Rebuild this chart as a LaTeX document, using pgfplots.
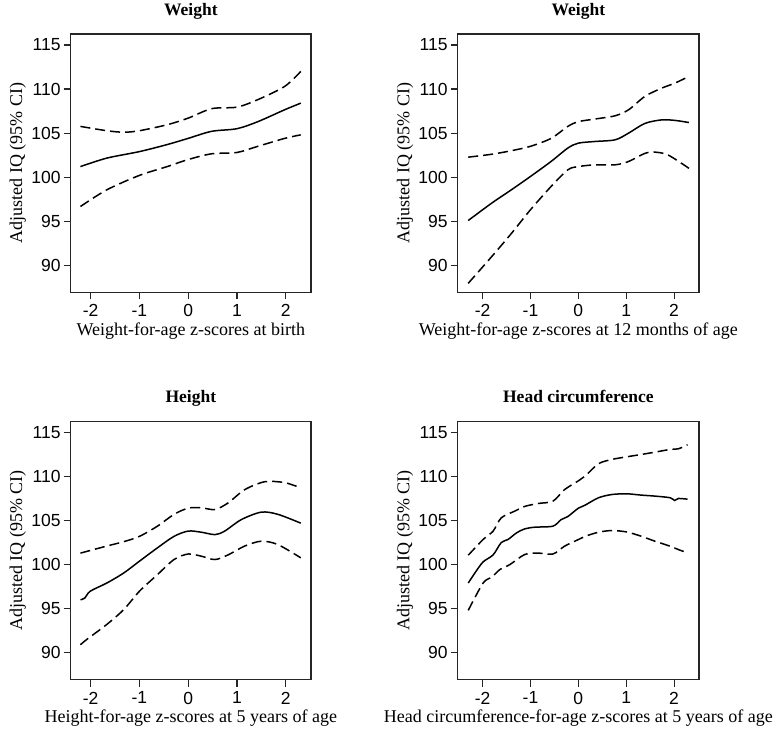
\documentclass[border=0pt]{standalone}
\usepackage{fontspec}
\setmainfont{Liberation Serif}
\newfontfamily\arialfont{Liberation Sans}
\usepackage{pgfplots}
\pgfplotsset{compat=1.18}
\pgfplotsset{
  panel/.style={
    scale only axis,
    height=258.3bp,
    ymin=86.93, ymax=116.25,
    ytick={90,95,100,105,110,115},
    yticklabels={90,95,100,105,110,115},
    xtick={-2,-1,0,1,2},
    xticklabels={-2,-1,0,1,2},
    tick pos=left,
    tick align=outside,
    major tick length=7bp,
    axis line style={black!85, line width=1.2bp},
    every tick/.style={black!85, line width=1.2bp},
    tick label style={font=\arialfont\fontsize{17.5bp}{19bp}\selectfont, text=black},
    yticklabel style={anchor=east, inner sep=0pt, xshift=-3bp},
    xticklabel style={anchor=north, inner sep=0pt, yshift=-5bp},
    label style={font=\fontsize{18bp}{20bp}\selectfont},
    xlabel style={at={(axis description cs:0.5,0)}, anchor=base, yshift=-43bp},
    ylabel style={anchor=center},
    title style={at={(axis description cs:0.5,1)}, anchor=base, yshift=13bp, font=\bfseries\fontsize{17.5bp}{20bp}\selectfont},
    ylabel={Adjusted IQ (95\% CI)},
  },
  mid/.style={black, line width=1.5bp, smooth},
  ci/.style={black, line width=1.5bp, smooth, dash pattern=on 10bp off 5bp},
}
\begin{document}
\begin{tikzpicture}
\useasboundingbox (0,0) rectangle (782bp,733bp);
% Panel 1
\begin{axis}[panel, at={(70.7bp,440.7bp)}, anchor=south west, width=240.3bp,
  xmin=-2.41, xmax=2.52, title={Weight}, xlabel={Weight-for-age z-scores at birth},
  ylabel style={at={(axis description cs:-0.2206,0.5)}}]
\addplot[mid] coordinates {(-2.21,101.2) (-1.67,102.16) (-1,102.9) (-0.43,103.7) (0,104.4) (0.48,105.2) (1,105.5) (1.43,106.3) (1.98,107.65) (2.31,108.4)};
\addplot[ci] coordinates {(-2.21,105.76) (-1.67,105.27) (-1.32,105.1) (-1,105.27) (-0.43,105.95) (0,106.7) (0.48,107.77) (1,107.95) (1.43,108.8) (1.98,110.3) (2.31,112.0)};
\addplot[ci] coordinates {(-2.21,96.67) (-1.67,98.56) (-1,100.2) (-0.43,101.2) (0,102.0) (0.48,102.65) (1,102.8) (1.43,103.5) (1.98,104.4) (2.31,104.8)};
\end{axis}
% Panel 2
\begin{axis}[panel, at={(457.7bp,440.7bp)}, anchor=south west, width=241.3bp,
  xmin=-2.52, xmax=2.52, title={Weight}, xlabel={Weight-for-age z-scores at 12 months of age},
  ylabel style={at={(axis description cs:-0.2184,0.5)}}]
\addplot[mid] coordinates {(-2.30,95.08) (-1.81,97.05) (-1.40,98.56) (-1,100.08) (-0.57,101.78) (-0.22,103.3) (0,103.86) (0.35,104.05) (0.77,104.24) (1.05,105.0) (1.39,106.1) (1.74,106.5) (2.02,106.44) (2.31,106.2)};
\addplot[ci] coordinates {(-2.30,102.27) (-1.81,102.6) (-1.40,103.0) (-1,103.5) (-0.57,104.4) (-0.22,105.76) (0,106.3) (0.35,106.6) (0.77,106.97) (1.05,107.65) (1.39,109.17) (1.74,110.1) (2.02,110.68) (2.31,111.44)};
\addplot[ci] coordinates {(-2.30,87.95) (-1.81,90.98) (-1.40,93.6) (-1,96.3) (-0.57,98.94) (-0.22,100.83) (0,101.2) (0.35,101.4) (0.77,101.4) (1.05,101.78) (1.39,102.7) (1.6,102.84) (1.88,102.5) (2.31,101.0)};
\end{axis}
% Panel 3
\begin{axis}[panel, at={(70.7bp,53.3bp)}, anchor=south west, width=240.3bp,
  xmin=-2.41, xmax=2.52, title={Height}, xlabel={Height-for-age z-scores at 5 years of age},
  ylabel style={at={(axis description cs:-0.2206,0.5)}}]
\addplot[mid] coordinates {(-2.21,96.0) (-2.12,96.2) (-2.01,96.97) (-1.67,97.9) (-1.32,99.05) (-1,100.38) (-0.63,101.9) (-0.29,103.2) (0,103.8) (0.27,103.67) (0.55,103.4) (0.75,103.8) (1.09,105.1) (1.5,105.95) (1.84,105.7) (2.31,104.7)};
\addplot[ci] coordinates {(-2.21,101.3) (-1.67,102.1) (-1.32,102.6) (-1,103.2) (-0.63,104.36) (-0.29,105.7) (0,106.4) (0.27,106.44) (0.55,106.25) (0.82,107.0) (1.16,108.5) (1.57,109.4) (1.98,109.3) (2.31,108.7)};
\addplot[ci] coordinates {(-2.21,90.9) (-2.08,91.5) (-1.67,93.2) (-1.32,94.9) (-1,96.97) (-0.63,98.86) (-0.29,100.57) (0,101.2) (0.27,100.95) (0.55,100.57) (0.82,101.1) (1.16,102.1) (1.5,102.65) (1.84,102.27) (2.31,100.76)};
\end{axis}
% Panel 4
\begin{axis}[panel, at={(457.7bp,53.3bp)}, anchor=south west, width=241.3bp,
  xmin=-2.52, xmax=2.52, title={Head circumference}, xlabel={Head circumference-for-age z-scores at 5 years of age},
  ylabel style={at={(axis description cs:-0.2184,0.5)}}]
\addplot[mid] coordinates {(-2.30,97.9) (-2.16,99.05) (-1.99,100.3) (-1.78,101.1) (-1.61,102.5) (-1.47,102.84) (-1.29,103.6) (-1.12,104.05) (-0.91,104.24) (-0.53,104.36) (-0.36,105.1) (-0.22,105.45) (0,106.4) (0.14,106.74) (0.42,107.58) (0.7,107.95) (1.01,108.03) (1.32,107.88) (1.6,107.77) (1.92,107.58) (2.01,107.27) (2.09,107.5) (2.28,107.42)};
\addplot[ci] coordinates {(-2.30,101.06) (-1.99,102.84) (-1.78,103.8) (-1.61,105.3) (-1.33,106.06) (-1.12,106.6) (-0.84,106.93) (-0.53,107.2) (-0.29,108.5) (0,109.5) (0.14,110.04) (0.42,111.44) (0.7,111.93) (1.01,112.23) (1.32,112.5) (1.6,112.76) (1.92,113.07) (2.09,113.14) (2.28,113.6)};
\addplot[ci] coordinates {(-2.30,94.8) (-1.99,97.9) (-1.81,98.56) (-1.64,99.43) (-1.43,100.0) (-1.12,101.14) (-0.84,101.3) (-0.53,101.2) (-0.29,102.08) (0,102.84) (0.14,103.2) (0.42,103.67) (0.7,103.86) (1.01,103.7) (1.32,103.2) (1.6,102.65) (1.92,102.08) (2.09,101.7) (2.28,101.33)};
\end{axis}
\end{tikzpicture}
\end{document}
